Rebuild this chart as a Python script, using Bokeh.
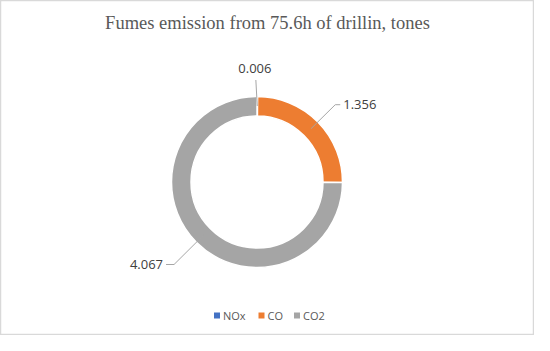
import math
from bokeh.plotting import figure
from bokeh.models import Range1d
from bokeh.core.properties import value
from bokeh.embed import file_html
from bokeh.resources import INLINE

title = "Fumes emission from 75.6h of drillin, tones"
categories = ["NOx", "CO", "CO2"]
values = [0.006, 1.356, 4.067]
labels = ["0.006", "1.356", "4.067"]
colors = ["#4472C4", "#ED7D31", "#A5A5A5"]

W, H = 534, 335
p = figure(width=W, height=H, output_backend="svg", toolbar_location=None,
           x_range=Range1d(0, W), y_range=Range1d(0, H),
           x_axis_location=None, y_axis_location=None, min_border=0,
           background_fill_color="white", border_fill_color="white")
p.grid.visible = False
p.outline_line_color = "#d9d9d9"
p.outline_line_width = 1.5

cx, cy = 256.5, 153.5
r_out, r_in = 85.5, 66.0

total = sum(values)
cum = 0.0
starts, ends, mids = [], [], []
for v in values:
    a0 = math.pi / 2 - 2 * math.pi * cum / total
    cum += v
    a1 = math.pi / 2 - 2 * math.pi * cum / total
    starts.append(a0)
    ends.append(a1)
    mids.append((a0 + a1) / 2)

p.annular_wedge(x=[cx] * 3, y=[cy] * 3, inner_radius=r_in, outer_radius=r_out,
                inner_radius_units="screen", outer_radius_units="screen",
                start_angle=starts, end_angle=ends, direction="clock",
                fill_color=colors, line_color="white", line_width=1.5)

lab_font = value("Open Sans")
for lab, m in zip(labels, mids):
    dx, dy = math.cos(m), math.sin(m)
    x0, y0 = cx + 76 * dx, cy + 76 * dy
    if abs(dx) < 0.1:
        x1, y1 = cx + 102 * dx - 1.5, cy + 102 * dy
        p.line([x0, x1], [y0, y1], line_color="#a6a6a6", line_width=1)
        p.text([x1 - 1], [y1 + 7], text=[lab], text_align="center",
               text_baseline="bottom", text_font=lab_font,
               text_font_size="13px", text_color="#404040")
    else:
        er = 110 if dx > 0 else 117
        seg = 5 if dx > 0 else 8
        x1, y1 = cx + er * dx, cy + er * dy
        s = 1 if dx > 0 else -1
        x2 = x1 + seg * s
        p.line([x0, x1, x2], [y0, y1, y1], line_color="#a6a6a6", line_width=1)
        p.text([x2 + 3 * s], [y1], text=[lab],
               text_align="left" if s > 0 else "right",
               text_baseline="middle", text_font=lab_font,
               text_font_size="13px", text_color="#404040")

p.text([267], [313], text=[title], text_align="center", text_baseline="middle",
       text_font=value("Liberation Serif"), text_font_size="18.5px",
       text_color="#595959")

leg_x = [216.5, 261.0, 296.5]
leg_y = 20
p.scatter(x=leg_x, y=[leg_y] * 3, marker="square", size=6,
          fill_color=colors, line_color=None)
p.text([x + 6 for x in leg_x], [leg_y] * 3, text=categories,
       text_align="left", text_baseline="middle", text_font=lab_font,
       text_font_size="11px", text_color="#595959")

open("out.html", "w").write(file_html(p, INLINE))
